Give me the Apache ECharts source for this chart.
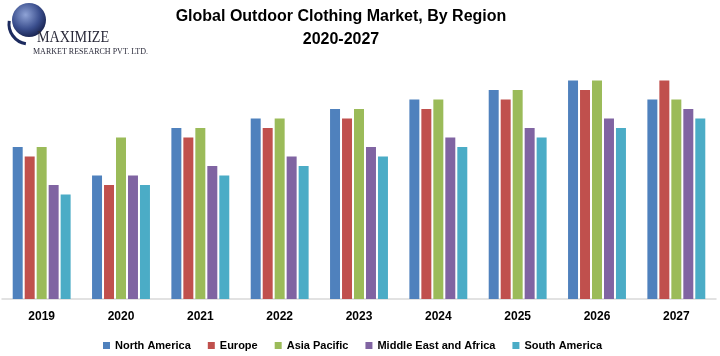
<!DOCTYPE html>
<html>
<head>
<meta charset="utf-8">
<script src="https://cdn.jsdelivr.net/npm/echarts@6/dist/echarts.min.js"></script>
<style>html,body{margin:0;padding:0;background:#fff}#c{width:720px;height:356px}</style>
</head>
<body>
<div id="c"></div>
<script>
var years = ['2019','2020','2021','2022','2023','2024','2025','2026','2027'];
var northAmerica = [16,13,18,19,20,21,22,23,21];
var europe       = [15,12,17,18,19,20,21,22,23];
var asiaPacific  = [16,17,18,19,20,21,22,23,21];
var middleEastAfrica = [12,13,14,15,16,17,18,19,20];
var southAmerica = [11,12,13,14,15,16,17,18,19];
var seriesNames = ['North America','Europe','Asia Pacific','Middle East and Africa','South America'];
var seriesData = [northAmerica, europe, asiaPacific, middleEastAfrica, southAmerica];
var colors = ['#4F81BD','#C0504D','#9BBB59','#8064A2','#4BACC6'];

var chart = echarts.init(document.getElementById('c'), null, {renderer:'canvas'});
var font = 'Liberation Sans';
chart.setOption({
  animation:false,
  color: colors,
  title: {
    text: 'Global Outdoor Clothing Market, By Region\n2020-2027',
    left: 336, top: 0, textAlign: 'center',
    textStyle: {fontFamily: font, fontWeight: 'bold', fontSize: 16, lineHeight: 23, color: '#000'}
  },
  legend: {
    data: seriesNames,
    bottom: 0, left: 98,
    icon: 'rect', itemWidth: 7, itemHeight: 7, itemGap: 17,
    textStyle: {fontFamily: font, fontWeight: 'bold', fontSize: 11, color: '#000'}
  },
  grid: {left: 2, right: 4, top: 61.5, bottom: 57},
  xAxis: {
    type: 'category', data: years,
    axisLine: {lineStyle: {color: '#d9d9d9', width: 1.5}},
    axisTick: {show: false},
    axisLabel: {margin: 12, fontFamily: font, fontWeight: 'bold', fontSize: 12, color: '#000'}
  },
  yAxis: {type: 'value', min: 0, max: 25, show: false, splitLine: {show: false}},
  series: seriesNames.map(function(n, i){
    return {name: n, type: 'bar', data: seriesData[i], barGap: '20%', barCategoryGap: '27%'};
  }),
  graphic: [
    {type: 'circle', shape: {cx: 29, cy: 20, r: 17},
     style: {fill: new echarts.graphic.RadialGradient(0.4, 0.35, 0.7, [{offset:0,color:'#8fa3d6'},{offset:0.6,color:'#3b4f8e'},{offset:1,color:'#151f4a'}])}},
    {type: 'arc', shape: {cx: 29, cy: 24, r: 20, startAngle: Math.PI*0.55, endAngle: Math.PI*1.05},
     style: {stroke: '#1c2a5e', lineWidth: 3, fill: null}},
    {type: 'text', x: 37, y: 29, scaleX: 0.83,
     style: {text: 'MAXIMIZE', font: '17px "Liberation Serif"', fill: '#2a2a3a'}},
    {type: 'text', x: 33, y: 47, scaleX: 0.89,
     style: {text: 'MARKET RESEARCH PVT. LTD.', font: '9px "Liberation Serif"', fill: '#2a2a3a'}}
  ]
});
</script>
</body>
</html>
